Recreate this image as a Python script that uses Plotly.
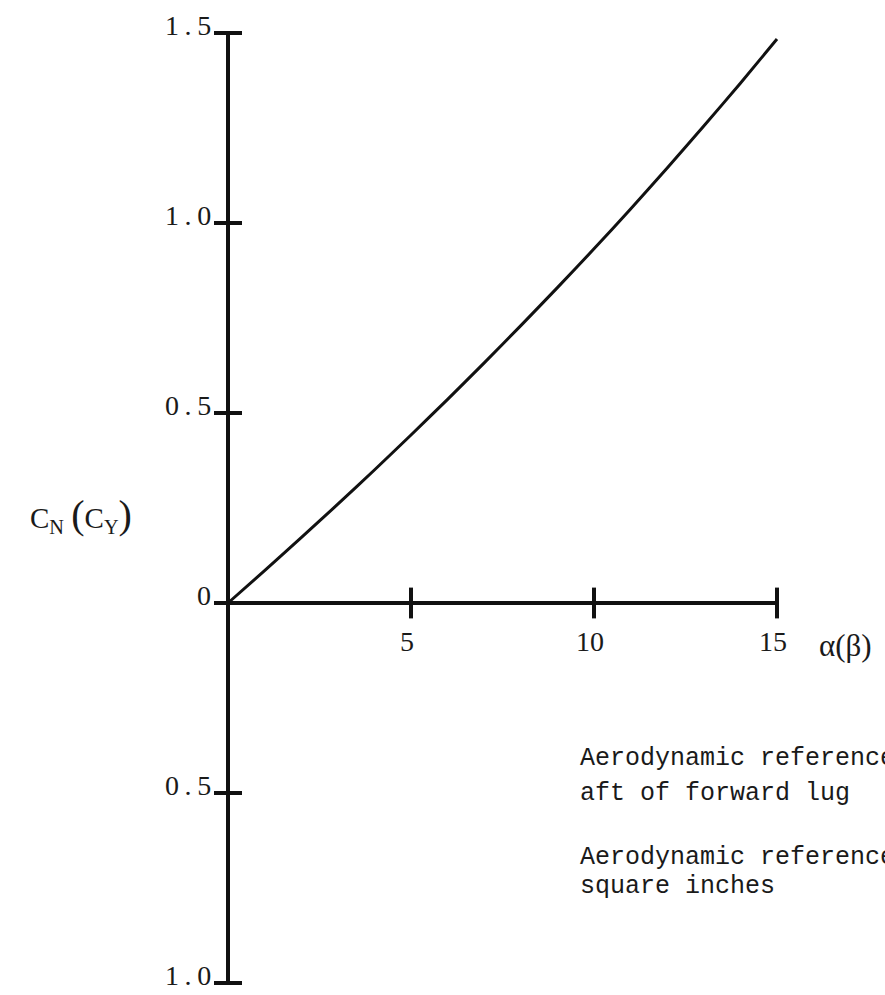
import plotly.graph_objects as go

# Normal (side) force coefficient versus angle of attack (sideslip), degrees
alpha_deg = [0, 1, 2, 3, 4, 5, 6, 7, 8, 9, 10, 11, 12, 13, 14, 15]
cn_values = [0.0, 0.085, 0.172, 0.26, 0.35, 0.442, 0.536, 0.632, 0.73, 0.83,
             0.932, 1.037, 1.145, 1.255, 1.368, 1.484]

# Axis extents and tick positions
x_axis_span = [0, 15]
y_axis_span = [-1.0, 1.5]
x_ticks = [5, 10, 15]
x_tick_labels = ["5", "10", "15"]
y_ticks = [1.5, 1.0, 0.5, 0.0, -0.5, -1.0]
y_tick_labels = ["1.5", "1.0", "0.5", "0", "0.5", "1.0"]

notes = [
    "Aerodynamic reference",
    "aft of forward lug",
    "Aerodynamic reference",
    "square inches",
]

INK = "#111111"
SERIF = "Liberation Serif"
MONO = "Liberation Mono"

fig = go.Figure()

# axis lines drawn through the origin
fig.add_trace(go.Scatter(x=x_axis_span, y=[0, 0], mode="lines",
                         line=dict(color=INK, width=4), hoverinfo="skip"))
fig.add_trace(go.Scatter(x=[0, 0], y=y_axis_span, mode="lines",
                         line=dict(color=INK, width=4), hoverinfo="skip"))

# tick marks crossing the axes
fig.add_trace(go.Scatter(x=[0] * len(y_ticks), y=y_ticks, mode="markers",
                         marker=dict(symbol="line-ew", size=20,
                                     line=dict(color=INK, width=4)),
                         hoverinfo="skip"))
fig.add_trace(go.Scatter(x=x_ticks, y=[0] * len(x_ticks), mode="markers",
                         marker=dict(symbol="line-ns", size=22,
                                     line=dict(color=INK, width=4)),
                         hoverinfo="skip"))

# the coefficient curve
fig.add_trace(go.Scatter(x=alpha_deg, y=cn_values, mode="lines",
                         line=dict(color=INK, width=3, shape="spline",
                                   smoothing=0.6),
                         hoverinfo="skip"))

annotations = []
for v, lab in zip(y_ticks, y_tick_labels):
    annotations.append(dict(x=0, y=v, xref="x", yref="y",
                            text="\u2009.\u2009".join(lab.split(".")),
                            showarrow=False, xanchor="right", yanchor="middle",
                            xshift=-15, yshift=8,
                            font=dict(family=SERIF, size=28, color="#1a1a1a")))
for v, lab in zip(x_ticks, x_tick_labels):
    annotations.append(dict(x=v, y=0, xref="x", yref="y", text=lab,
                            showarrow=False, xanchor="center", yanchor="middle",
                            xshift=-4, yshift=-38,
                            font=dict(family=SERIF, size=28, color="#1a1a1a")))

# axis titles
annotations.append(dict(x=15, y=0, xref="x", yref="y", text="\u03b1(\u03b2)",
                        showarrow=False, xanchor="left", yanchor="middle",
                        xshift=40, yshift=-42,
                        font=dict(family=SERIF, size=31, color="#1a1a1a")))
annotations.append(dict(x=81 / 885, y=1 - 515 / 995, xref="paper", yref="paper",
                        text="C<sub>N</sub> <span style='font-size:40px'>(</span>"
                             "C<sub>Y</sub><span style='font-size:40px'>)</span>",
                        showarrow=False, xanchor="center", yanchor="middle",
                        font=dict(family=SERIF, size=29, color="#1a1a1a")))

# reference notes
note_rows = [758, 793, 857, 886]
for txt, py in zip(notes, note_rows):
    annotations.append(dict(x=578 / 885, y=1 - py / 995, xref="paper", yref="paper",
                            text=txt, showarrow=False, xanchor="left",
                            yanchor="middle",
                            font=dict(family=MONO, size=25, color="#1a1a1a")))

fig.update_layout(
    width=885, height=995,
    margin=dict(l=0, r=0, t=0, b=0),
    paper_bgcolor="white", plot_bgcolor="white",
    showlegend=False,
    xaxis=dict(range=[-228 / 36.6, (885 - 228) / 36.6], visible=False),
    yaxis=dict(range=[-(995 - 603) / 380, 603 / 380], visible=False),
    annotations=annotations,
)

fig.write_html("out.html")
